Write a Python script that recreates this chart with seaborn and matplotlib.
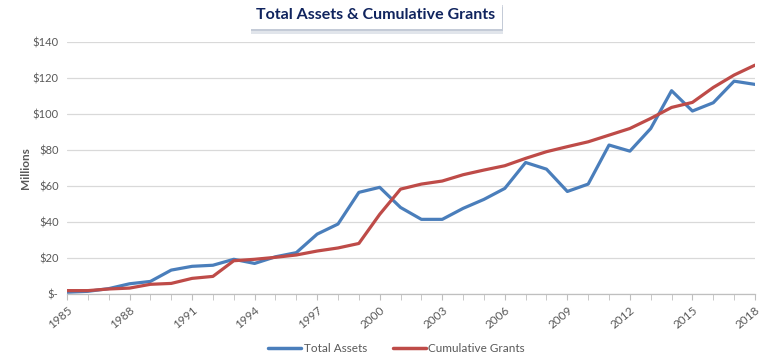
import matplotlib
matplotlib.use("Agg")
import matplotlib.pyplot as plt
import matplotlib.patheffects as pe
from matplotlib.ticker import FuncFormatter, MultipleLocator
import numpy as np
import pandas as pd
import seaborn as sns

# ── data ($ millions) ────────────────────────────────────────────────────────
years = list(range(1985, 2019))
total_assets = [1.0, 1.5, 3.0, 5.7, 7.0, 13.3, 15.4, 16.0, 19.3, 17.0,
                20.7, 23.0, 33.3, 38.9, 56.5, 59.3, 48.1, 41.5, 41.5, 47.6,
                52.6, 58.7, 73.1, 69.4, 57.0, 61.1, 82.8, 79.4, 92.0, 113.0,
                101.7, 106.3, 118.3, 116.5]
cumulative_grants = [1.9, 1.9, 2.8, 3.3, 5.4, 5.9, 8.7, 9.8, 18.5, 19.3,
                     20.4, 21.7, 23.9, 25.6, 28.1, 44.3, 58.3, 61.1, 62.8, 66.3,
                     68.9, 71.3, 75.4, 79.1, 81.9, 84.6, 88.3, 92.0, 97.6, 103.7,
                     106.5, 114.8, 121.7, 127.2]
series_names = ["Total Assets", "Cumulative Grants"]
series_colors = ["#4A7EBB", "#BE4B48"]
year_ticks = list(range(1985, 2019, 3))
y_ticks = [0, 20, 40, 60, 80, 100, 120, 140]

df = pd.DataFrame({
    "year": years * 2,
    "value": total_assets + cumulative_grants,
    "series": [series_names[0]] * len(years) + [series_names[1]] * len(years),
})

sns.set_style("white")
plt.rcParams["font.family"] = ["Lato", "DejaVu Sans"]

fig = plt.figure(figsize=(7.78, 3.63), dpi=100)
ax = fig.add_axes([0.0861, 0.190, 0.8843, 0.694])

sns.lineplot(data=df, x="year", y="value", hue="series",
             palette=dict(zip(series_names, series_colors)),
             linewidth=2.3, ax=ax, legend=False)

ax.set_xlim(years[0], years[-1])
ax.set_ylim(0, 140)
ax.set_yticks(y_ticks)
ax.yaxis.set_major_formatter(FuncFormatter(lambda v, _: "$-" if v == 0 else f"${v:.0f}"))
ax.set_xticks(year_ticks)
ax.xaxis.set_minor_locator(MultipleLocator(1))
ax.grid(axis="y", color="#D9D9D9", linewidth=0.9)
ax.set_axisbelow(True)

for s in ["top", "right", "left"]:
    ax.spines[s].set_visible(False)
ax.spines["bottom"].set_color("#BFBFBF")
ax.spines["bottom"].set_linewidth(0.9)

ax.tick_params(axis="y", length=0, labelsize=8, labelcolor="#595959", pad=6)
ax.tick_params(axis="x", which="both", direction="out", length=4,
               color="#BFBFBF", labelsize=8.5, labelcolor="#595959", bottom=True)
plt.setp(ax.get_xticklabels(), rotation=40, ha="right", rotation_mode="anchor")

ax.set_xlabel("")
ax.set_ylabel("Millions", fontsize=8.5, fontweight="bold", color="#595959", labelpad=1)

# title in a white box with a soft shadow
t = fig.text(0.483, 0.958, "Total Assets & Cumulative Grants",
             ha="center", va="center", fontsize=11.5, fontweight="bold",
             color="#10245E",
             bbox=dict(boxstyle="square,pad=0.4", facecolor="white", edgecolor="none"))
t.get_bbox_patch().set_path_effects([
    pe.withSimplePatchShadow(offset=(1, -4), shadow_rgbFace="#C5CCD8", alpha=0.5),
    pe.withSimplePatchShadow(offset=(1, -2), shadow_rgbFace="#A9B3C4", alpha=0.5),
])

handles = [plt.Line2D([], [], color=c, linewidth=2.5) for c in series_colors]
fig.legend(handles, series_names, loc="center", bbox_to_anchor=(0.51, 0.04),
           ncol=2, frameon=False, fontsize=8.5, labelcolor="#595959",
           handlelength=2.8, handletextpad=0.2, columnspacing=2.2)

fig.savefig("out.png", dpi=100)
